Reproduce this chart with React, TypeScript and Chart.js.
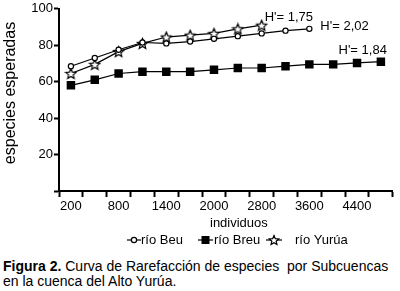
import React, { useEffect, useRef } from 'react';
import { Chart, registerables } from 'chart.js';

Chart.register(...registerables);

const categories = ['200', '500', '800', '1100', '1400', '1700', '2000', '2400', '2800', '3200', '3600', '4000', '4400', '4800'];
const shownTicks = ['200', '800', '1400', '2000', '2800', '3600', '4400'];
const beu = [68.5, 73, 77.5, 81.5, 81, 82, 83.5, 85, 86.5, 88, 89];
const breu = [58, 61, 64.5, 65.5, 65.5, 65.5, 66.5, 67.5, 67.5, 68.5, 69.5, 69.5, 70.3, 71];
const yurua = [64.5, 69.5, 76.5, 81, 84.5, 85.5, 86.5, 89, 91];
const seriesNames = ['río Beu', 'río Breu', 'río Yurúa'];
const diversityLabels = ["H'= 2,02", "H'= 1,84", "H'= 1,75"];
const xTitle = 'individuos';
const yTitle = 'especies esperadas';

const FONT = '"Liberation Sans", Arial, Helvetica, sans-serif';

function starPath(ctx: CanvasRenderingContext2D, cx: number, cy: number, R: number) {
  const r = R * 0.45;
  ctx.beginPath();
  for (let i = 0; i < 10; i++) {
    const a = -Math.PI / 2 + (i * Math.PI) / 5;
    const rad = i % 2 === 0 ? R : r;
    ctx.lineTo(cx + rad * Math.cos(a), cy + rad * Math.sin(a));
  }
  ctx.closePath();
}

function makeStar(size: number) {
  const c = document.createElement('canvas');
  c.width = size;
  c.height = size;
  const ctx = c.getContext('2d')!;
  starPath(ctx, size / 2, size / 2 + 0.6, size / 2 - 1);
  ctx.fillStyle = '#fff';
  ctx.fill();
  ctx.strokeStyle = '#000';
  ctx.lineWidth = 1.2;
  ctx.stroke();
  return c;
}

function drawMarker(ctx: CanvasRenderingContext2D, kind: number, x: number, y: number) {
  ctx.save();
  ctx.strokeStyle = '#000';
  ctx.fillStyle = '#000';
  ctx.lineWidth = 1.2;
  if (kind === 0) {
    ctx.beginPath();
    ctx.arc(x, y, 2.6, 0, Math.PI * 2);
    ctx.fillStyle = '#fff';
    ctx.fill();
    ctx.stroke();
  } else if (kind === 1) {
    ctx.fillRect(x - 4, y - 4, 8, 8);
  } else {
    starPath(ctx, x, y + 0.5, 5);
    ctx.fillStyle = '#fff';
    ctx.fill();
    ctx.stroke();
  }
  ctx.restore();
}

const overlayPlugin = {
  id: 'overlay',
  afterDraw(chart: any) {
    const ctx: CanvasRenderingContext2D = chart.ctx;
    const area = chart.chartArea;
    ctx.save();
    ctx.fillStyle = '#000';
    ctx.font = `13px ${FONT}`;
    ctx.textBaseline = 'alphabetic';
    ctx.textAlign = 'left';

    const last = (i: number) => {
      const m = chart.getDatasetMeta(i);
      return m.data[m.data.length - 1];
    };
    const pBeu = last(0);
    const pBreu = last(1);
    const pYur = last(2);
    ctx.fillText(diversityLabels[0], pBeu.x + 11, pBeu.y + 1);
    ctx.textAlign = 'right';
    ctx.fillText(diversityLabels[1], pBreu.x + 6, pBreu.y - 8);
    ctx.textAlign = 'left';
    ctx.fillText(diversityLabels[2], pYur.x + 3, pYur.y - 4);

    // x title
    ctx.textAlign = 'center';
    ctx.textBaseline = 'middle';
    ctx.fillText(xTitle, (area.left + area.right) / 2 + 13, area.bottom + 32);

    // legend
    const ly = area.bottom + 49;
    const items = [
      { x0: 127, x1: 141, tx: 141 },
      { x0: 198, x1: 213, tx: 214 },
      { x0: 266, x1: 282, tx: 295 },
    ];
    items.forEach((it, i) => {
      ctx.save();
      ctx.strokeStyle = '#000';
      ctx.lineWidth = 1.2;
      ctx.beginPath();
      ctx.moveTo(it.x0, ly);
      ctx.lineTo(it.x1, ly);
      ctx.stroke();
      ctx.restore();
      drawMarker(ctx, i, (it.x0 + it.x1) / 2, ly);
      ctx.textAlign = 'left';
      ctx.textBaseline = 'middle';
      ctx.fillText(seriesNames[i], it.tx, ly);
    });

    // y title
    ctx.font = `16px ${FONT}`;
    ctx.translate(15, 93);
    ctx.rotate(-Math.PI / 2);
    ctx.textAlign = 'center';
    ctx.textBaseline = 'alphabetic';
    ctx.fillText(yTitle, 0, 0);
    ctx.restore();
  },
};

export default function App() {
  const ref = useRef<HTMLCanvasElement | null>(null);

  useEffect(() => {
    if (!ref.current) return;
    const star = makeStar(13);
    const chart = new Chart(ref.current, {
      type: 'line',
      data: {
        labels: categories,
        datasets: [
          {
            label: seriesNames[0],
            data: beu,
            borderColor: '#000',
            borderWidth: 1.2,
            pointStyle: 'circle',
            pointRadius: 2.6,
            pointBorderWidth: 1.2,
            pointBackgroundColor: '#fff',
            pointBorderColor: '#000',
            tension: 0,
          },
          {
            label: seriesNames[1],
            data: breu,
            borderColor: '#000',
            borderWidth: 1.2,
            pointStyle: 'rect',
            pointRadius: 6,
            pointBorderWidth: 0,
            pointBackgroundColor: '#000',
            pointBorderColor: '#000',
            tension: 0,
          },
          {
            label: seriesNames[2],
            data: yurua,
            borderColor: '#000',
            borderWidth: 1.2,
            pointStyle: star as any,
            pointRadius: 6,
            tension: 0,
          },
        ],
      },
      options: {
        responsive: false,
        animation: false,
        devicePixelRatio: 1,
        layout: { padding: { left: 0, right: 5, top: 7, bottom: 0 } },
        plugins: {
          legend: { display: false },
          tooltip: { enabled: false },
          title: { display: false },
        },
        scales: {
          x: {
            type: 'category',
            offset: true,
            afterFit: (s: any) => {
              s.height = 65;
            },
            grid: {
              offset: true,
              drawOnChartArea: false,
              drawTicks: true,
              tickLength: 6,
              tickWidth: 2,
              tickColor: '#000',
              color: '#000',
            },
            border: { display: true, color: '#000', width: 2 },
            ticks: {
              autoSkip: false,
              maxRotation: 0,
              minRotation: 0,
              padding: 2,
              color: '#000',
              font: { family: FONT, size: 13 },
              callback: (_v: any, i: number) => (shownTicks.includes(categories[i]) ? categories[i] : ''),
            },
          },
          y: {
            min: 0,
            max: 100,
            afterFit: (s: any) => {
              s.width = 59;
            },
            grid: {
              drawOnChartArea: false,
              drawTicks: true,
              tickLength: 5,
              tickWidth: 2,
              tickColor: '#000',
              color: '#000',
            },
            border: { display: true, color: '#000', width: 2 },
            ticks: {
              stepSize: 20,
              padding: 1,
              color: '#000',
              font: { family: FONT, size: 13 },
              callback: (v: any) => (v === 0 ? '' : String(v)),
            },
          },
        },
      },
      plugins: [overlayPlugin],
    });
    return () => chart.destroy();
  }, []);

  return (
    <div style={{ position: 'absolute', left: 0, top: 0, width: 400, height: 291, background: '#fff', overflow: 'hidden' }}>
      <canvas ref={ref} width={400} height={256} style={{ display: 'block', width: 400, height: 256 }} />
      <div
        style={{
          position: 'absolute',
          left: 3,
          top: 259,
          width: 400,
          fontFamily: FONT,
          fontSize: 14,
          lineHeight: '15px',
          color: '#000',
          whiteSpace: 'nowrap',
        }}
      >
        <b>Figura 2.</b> Curva de Rarefacción de especies{'\u00a0'} por Subcuencas
        <br />
        en la cuenca del Alto Yurúa.
      </div>
    </div>
  );
}
